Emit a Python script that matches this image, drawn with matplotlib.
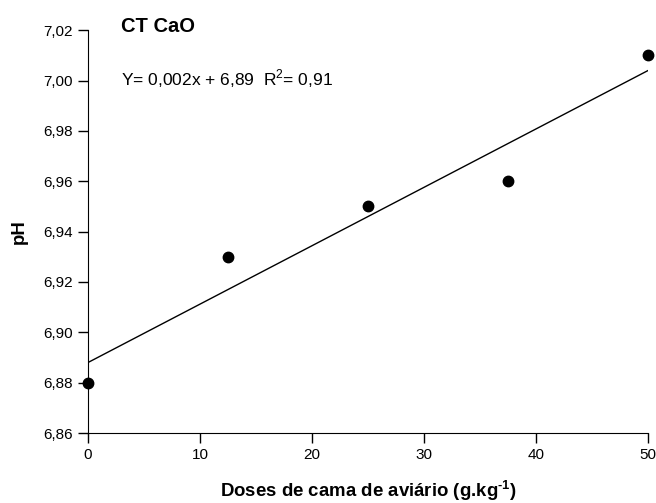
import matplotlib
matplotlib.use("Agg")
import matplotlib.pyplot as plt
import numpy as np

plt.rcParams['font.family'] = ['Liberation Sans', 'DejaVu Sans']
plt.rcParams['mathtext.fontset'] = 'custom'
plt.rcParams['mathtext.rm'] = 'Liberation Sans'
plt.rcParams['mathtext.bf'] = 'Liberation Sans:bold'
plt.rcParams['axes.unicode_minus'] = False

doses = [0, 12.5, 25, 37.5, 50]
ph = [6.88, 6.93, 6.95, 6.96, 7.01]
x_ticks = [0, 10, 20, 30, 40, 50]
y_ticks = [6.86, 6.88, 6.90, 6.92, 6.94, 6.96, 6.98, 7.00, 7.02]

fig = plt.figure(figsize=(6.56, 5.03), dpi=100)
ax = fig.add_axes([0.134, 0.139, 0.854, 0.801])

# linear fit drawn over the dose range
slope, intercept = np.polyfit(doses, ph, 1)
xs = np.array([0, 50])
ax.plot(xs, slope * xs + intercept, color='black', linewidth=1)
ax.plot(doses, ph, 'o', color='black', markersize=7.5, clip_on=False, zorder=3)

ax.set_xlim(0, 50)
ax.set_ylim(6.86, 7.02)
ax.set_xticks(x_ticks)
ax.set_yticks(y_ticks)
ax.set_yticklabels([f"{v:.2f}".replace('.', ',') for v in y_ticks])
ax.spines['top'].set_visible(False)
ax.spines['right'].set_visible(False)
ax.tick_params(direction='out', length=7, width=1, labelsize=11, pad=4)

ax.set_xlabel('Doses de cama de aviário (g.kg$^{\\mathbf{\u20101}}$)',
              fontsize=13.4, fontweight='bold')
ax.xaxis.label.set_va('baseline')
ax.xaxis.set_label_coords(0.5, -0.159)
ax.set_ylabel('pH', fontsize=13.4, fontweight='bold', labelpad=11)

ax.text(0.059, 0.995, 'CT CaO', transform=ax.transAxes, fontsize=14.5,
        fontweight='bold', va='baseline')
ax.text(0.059, 0.864, r'Y= 0,002x + 6,89  R$^{\mathrm{2}}$= 0,91',
        transform=ax.transAxes, fontsize=12.5, va='baseline')

fig.savefig('out.png', dpi=100)
